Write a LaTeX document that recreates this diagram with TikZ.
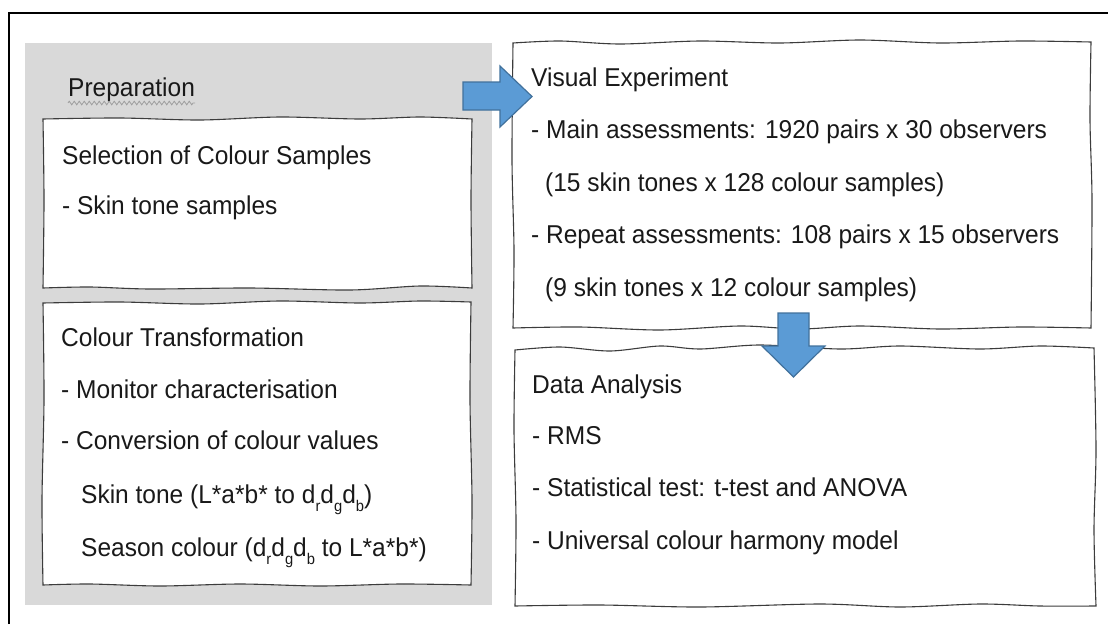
\documentclass[tikz,border=0pt]{standalone}
\usepackage{fontspec}
\setmainfont{Liberation Sans}[FakeStretch=0.95]
\usetikzlibrary{decorations.pathmorphing}
\definecolor{panelgray}{HTML}{D9D9D9}
\definecolor{arrowfill}{HTML}{5B9BD5}
\definecolor{arrowdraw}{HTML}{41719C}
\definecolor{edgegray}{HTML}{3C3C3C}
\newcommand{\lowsub}[1]{\raisebox{-0.3em}{\fontsize{15.5}{15.5}\selectfont #1}}
\tikzset{
  sketchedge/.style={draw=edgegray, line width=1.1pt, fill=white, line join=miter},
  txt/.style={anchor=base west, inner sep=0pt, text=black!90, font=\fontsize{25.8}{30}\selectfont},
  blockarrow/.style={fill=arrowfill, draw=arrowdraw, line width=1.2pt, line join=miter},
}
\begin{document}
\begin{tikzpicture}[x=1pt,y=-1pt]
\useasboundingbox (0,0) rectangle (1108,624);
% outer frame (top and left edges visible)
\draw[line width=2.8pt, line join=miter] (9,624) -- (9,13) -- (1108,13);
% grey preparation panel
\fill[panelgray] (25,43) rectangle (492,605);
% box 1: selection
\draw[sketchedge]
  plot[smooth] coordinates {(43,119) (120,118) (200,120) (280,117) (360,119) (420,117) (472,119)}
  -- plot[smooth] coordinates {(472,119) (471,200) (472,288)}
  -- plot[smooth] coordinates {(472,288) (420,286) (350,290) (250,288) (150,289) (90,287) (43,288)}
  -- plot[smooth] coordinates {(43,288) (44,200) (43,119)} -- cycle;
% box 2: colour transformation
\draw[sketchedge]
  plot[smooth] coordinates {(43,303) (120,302) (200,304) (280,301) (360,303) (420,301) (471,302)}
  -- plot[smooth] coordinates {(471,302) (470,400) (472,500) (471,585)}
  -- plot[smooth] coordinates {(471,585) (400,584) (320,586) (240,584) (160,586) (90,584) (43,585)}
  -- plot[smooth] coordinates {(43,585) (42,500) (44,400) (43,303)} -- cycle;
% box 3: visual experiment
\draw[sketchedge]
  plot[smooth] coordinates {(513,43) (560,41) (620,44) (700,41) (780,43) (860,40) (940,43) (1020,41) (1091,42)}
  -- plot[smooth] coordinates {(1091,42) (1090,120) (1092,200) (1091,328)}
  -- plot[smooth] coordinates {(1091,328) (1020,327) (940,329) (860,326) (800,329) (740,326) (660,330) (580,327) (513,328)}
  -- plot[smooth] coordinates {(513,328) (514,250) (512,160) (513,43)} -- cycle;
% box 4: data analysis
\draw[sketchedge]
  plot[smooth] coordinates {(515,350) (560,347) (610,351) (660,346) (700,349) (760,345) (840,349) (900,346) (980,349) (1040,346) (1094,348)}
  -- plot[smooth] coordinates {(1094,348) (1096,450) (1094,530) (1096,606)}
  -- plot[smooth] coordinates {(1096,606) (1040,606) (980,604) (900,607) (820,604) (700,607) (600,605) (515,606)}
  -- plot[smooth] coordinates {(515,606) (516,520) (514,430) (515,350)} -- cycle;
% texts: preparation
\node[txt] (prep) at (68,96) {Preparation};
\draw[gray!75, line width=0.8pt, decorate, decoration={zigzag, segment length=5pt, amplitude=1.8pt}]
  ([yshift=-7pt]prep.base west) -- ([yshift=-7pt]prep.base east);
\node[txt] (selT) at (62,164.5) {Selection of Colour Samples};
\node[txt] (selA) at (62,214.5) {- Skin tone samples};
\node[txt] (ctT) at (61,346.5) {Colour Transformation};
\node[txt] (ctA) at (61,398.5) {- Monitor characterisation};
\node[txt] (ctB) at (61,449.5) {- Conversion of colour values};
\node[txt] (ctC) at (81,503.5) {Skin tone (L*a*b* to d\lowsub{r}d\lowsub{g}d\lowsub{b})};
\node[txt] (ctD) at (81,556.5) {Season colour (d\lowsub{r}d\lowsub{g}d\lowsub{b} to L*a*b*)};
% texts: visual experiment
\node[txt] (veT) at (531,86.5) {Visual Experiment};
\node[txt] (veA) at (531,138.5) {- Main assessments: 1920 pairs x 30 observers};
\node[txt] (veB) at (545,191.5) {(15 skin tones x 128 colour samples)};
\node[txt] (veC) at (531,243.5) {- Repeat assessments: 108 pairs x 15 observers};
\node[txt] (veD) at (545,296.5) {(9 skin tones x 12 colour samples)};
% texts: data analysis
\node[txt] (daT) at (532,393.5) {Data Analysis};
\node[txt] (daA) at (532,444.5) {- RMS};
\node[txt] (daB) at (532,496.5) {- Statistical test: t-test and ANOVA};
\node[txt] (daC) at (532,549.5) {- Universal colour harmony model};
% block arrows
\draw[blockarrow] (463,82) -- (500,82) -- (500,66) -- (532,96.5) -- (500,127) -- (500,110) -- (463,110) -- cycle;
\draw[blockarrow] (778,313) -- (809,313) -- (809,346) -- (825,346) -- (793.5,377) -- (762,346) -- (778,346) -- cycle;
\end{tikzpicture}
\end{document}
